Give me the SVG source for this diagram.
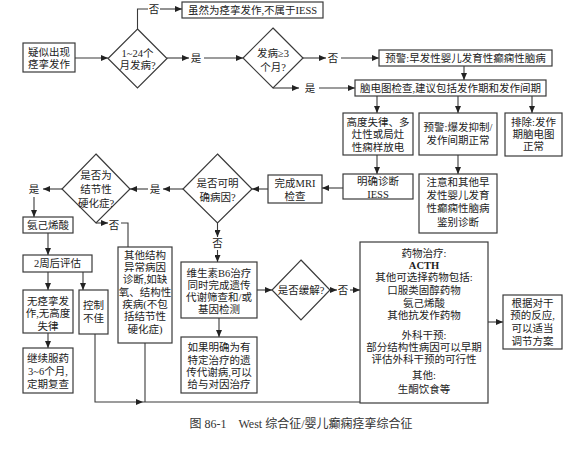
<svg xmlns="http://www.w3.org/2000/svg" width="586" height="455" viewBox="0 0 586 455">
<defs>
<marker id="ah" markerUnits="userSpaceOnUse" markerWidth="7" markerHeight="6" refX="7" refY="3" orient="auto">
<path d="M0,0 L7,3 L0,6 z" fill="#222"/>
</marker>
<style>
.b{fill:#fff;stroke:#3a3a3a;stroke-width:1.2}
.t{font-family:"Liberation Serif","Noto Sans CJK SC",serif;font-size:10.5px;fill:#222;text-anchor:middle;dominant-baseline:central}
.c{fill:none;stroke:#3a3a3a;stroke-width:1.1}
.a{marker-end:url(#ah)}
.cap{font-family:"Liberation Serif","Noto Sans CJK SC",serif;font-size:12px;fill:#333;text-anchor:middle;dominant-baseline:central}
</style>
</defs>
<rect width="586" height="455" fill="#fff"/>

<g id="connectors">
<path class="c a" d="M75,58 H108"/>
<path class="c" d="M137.5,29 V9 H148"/>
<path class="c a" d="M160,9 H182"/>
<path class="c a" d="M167,58 H189"/>
<path class="c a" d="M204,58 H243"/>
<path class="c a" d="M303,58 H326"/>
<path class="c a" d="M341,58 H379"/>
<path class="c a" d="M273,88 H299"/>
<path class="c a" d="M319,88 H355"/>
<path class="c a" d="M464,66 V80"/>
<path class="c a" d="M377,96 V113"/>
<path class="c a" d="M458,96 V113"/>
<path class="c a" d="M532,96 V113"/>
<path class="c a" d="M377,155 V174"/>
<path class="c a" d="M458,155 V174"/>
<path class="c a" d="M343,188 H322"/>
<path class="c a" d="M268,189 H252"/>
<path class="c a" d="M183,189 H163"/>
<path class="c a" d="M148,189 H130"/>
<path class="c a" d="M62,189 H43"/>
<path class="c a" d="M34,197 V217"/>
<path class="c a" d="M48,233 V255"/>
<path class="c a" d="M48,272 V290"/>
<path class="c a" d="M83,272 V290"/>
<path class="c a" d="M48,333 V348"/>
<path class="c a" d="M96,223 H108"/>
<path class="c" d="M121,223 H128 V247"/>
<path class="c a" d="M95,334 V402 H143"/>
<path class="c" d="M143,402 H360"/>
<path class="c" d="M145,343 V402"/>
<path class="c a" d="M217.5,223 V237"/>
<path class="c a" d="M217.5,250 V262"/>
<path class="c a" d="M219,318 V337"/>
<path class="c a" d="M257,290 H272"/>
<path class="c a" d="M330,290 H337"/>
<path class="c a" d="M350,290 H360"/>
<path class="c a" d="M488,322 H503"/>
<text class="t" x="154" y="9">否</text>
<text class="t" x="196" y="58">是</text>
<text class="t" x="333" y="58">否</text>
<text class="t" x="310" y="88">是</text>
<text class="t" x="155" y="189">是</text>
<text class="t" x="34" y="189">是</text>
<text class="t" x="114" y="225">否</text>
<text class="t" x="217.5" y="243">否</text>
<text class="t" x="343" y="290">否</text>
</g>

<g id="n_start"><rect class="b" x="23" y="43" width="52" height="29"/>
<text class="t" x="49" y="52">疑似出现</text><text class="t" x="49" y="64">痉挛发作</text></g>

<g id="n_d1"><polygon class="b" points="137.5,29 167,58.5 137.5,88 108,58.5"/>
<text class="t" x="137.5" y="53">1~24个</text><text class="t" x="137.5" y="65">月发病?</text></g>

<g id="n_notiess"><rect class="b" x="182" y="2" width="141" height="16"/>
<text class="t" x="252.5" y="10">虽然为痉挛发作,不属于IESS</text></g>

<g id="n_d2"><polygon class="b" points="273,28 303,58 273,88 243,58"/>
<text class="t" x="273" y="53">发病≥3</text><text class="t" x="273" y="67">个月?</text></g>

<g id="n_warn1"><rect class="b" x="379" y="50" width="173" height="16"/>
<text class="t" x="465.5" y="58">预警:早发性婴儿发育性癫痫性脑病</text></g>

<g id="n_eeg"><rect class="b" x="355" y="80" width="191" height="16"/>
<text class="t" x="450.5" y="88">脑电图检查,建议包括发作期和发作间期</text></g>

<g id="n_hyps"><rect class="b" x="343" y="113" width="70" height="42"/>
<text class="t" x="378" y="122">高度失律、多</text><text class="t" x="378" y="134">灶性或局灶</text><text class="t" x="378" y="147">性痫样放电</text></g>

<g id="n_warn2"><rect class="b" x="419" y="113" width="78" height="42"/>
<text class="t" x="458" y="127">预警:爆发抑制/</text><text class="t" x="458" y="140">发作间期正常</text></g>

<g id="n_excl"><rect class="b" x="505" y="113" width="57" height="43"/>
<text class="t" x="533.5" y="122">排除:发作</text><text class="t" x="533.5" y="134">期脑电图</text><text class="t" x="533.5" y="146">正常</text></g>

<g id="n_iess"><rect class="b" x="343" y="174" width="70" height="25"/>
<text class="t" x="378" y="181">明确诊断</text><text class="t" x="378" y="194">IESS</text></g>

<g id="n_diff"><rect class="b" x="419" y="174" width="78" height="59"/>
<text class="t" x="458" y="182">注意和其他早</text><text class="t" x="458" y="195">发性婴儿发育</text><text class="t" x="458" y="208">性癫痫性脑病</text><text class="t" x="458" y="222">鉴别诊断</text></g>

<g id="n_mri"><rect class="b" x="268" y="175" width="54" height="28"/>
<text class="t" x="295" y="183">完成MRI</text><text class="t" x="295" y="196">检查</text></g>

<g id="n_d3"><polygon class="b" points="217.5,154 252,189 217.5,223 183,189"/>
<text class="t" x="217.5" y="183">是否可明</text><text class="t" x="217.5" y="197">确病因?</text></g>

<g id="n_d4"><polygon class="b" points="96,154 130,189 96,223 62,189"/>
<text class="t" x="96" y="175">是否为</text><text class="t" x="96" y="189">结节性</text><text class="t" x="96" y="203">硬化症?</text></g>

<g id="n_vgb"><rect class="b" x="23" y="217" width="50" height="16"/>
<text class="t" x="48" y="225">氨己烯酸</text></g>

<g id="n_eval"><rect class="b" x="23" y="255" width="69" height="17"/>
<text class="t" x="57.5" y="263.5">2周后评估</text></g>

<g id="n_ok"><rect class="b" x="23" y="290" width="50" height="43"/>
<text class="t" x="48" y="301">无痉挛发</text><text class="t" x="48" y="313">作,无高度</text><text class="t" x="48" y="326">失律</text></g>

<g id="n_poor"><rect class="b" x="79" y="290" width="29" height="44"/>
<text class="t" x="93.5" y="305">控制</text><text class="t" x="93.5" y="318">不佳</text></g>

<g id="n_cont"><rect class="b" x="23" y="348" width="50" height="45"/>
<text class="t" x="48" y="358">继续服药</text><text class="t" x="48" y="371">3~6个月,</text><text class="t" x="48" y="384">定期复查</text></g>

<g id="n_other"><rect class="b" x="118" y="247" width="54" height="96"/>
<text class="t" x="145" y="255">其他结构</text><text class="t" x="145" y="267">异常病因</text><text class="t" x="145" y="279">诊断,如缺</text><text class="t" x="145" y="292">氧、结构性</text><text class="t" x="145" y="304">疾病(不包</text><text class="t" x="145" y="316">括结节性</text><text class="t" x="145" y="329">硬化症)</text></g>

<g id="n_b6"><rect class="b" x="181" y="262" width="76" height="56"/>
<text class="t" x="219" y="273">维生素B6治疗</text><text class="t" x="219" y="285">同时完成遗传</text><text class="t" x="219" y="297">代谢筛查和/或</text><text class="t" x="219" y="309">基因检测</text></g>

<g id="n_meta"><rect class="b" x="181" y="337" width="76" height="56"/>
<text class="t" x="219" y="347">如果明确为有</text><text class="t" x="219" y="360">特定治疗的遗</text><text class="t" x="219" y="372">传代谢病,可以</text><text class="t" x="219" y="384">给与对因治疗</text></g>

<g id="n_d5"><polygon class="b" points="301,260 330,290 301,320 272,290"/>
<text class="t" x="301" y="290">是否缓解?</text></g>

<g id="n_treat"><rect class="b" x="360" y="242" width="128" height="161"/>
<text class="t" x="424" y="253">药物治疗:</text>
<text class="t" x="424" y="265" font-weight="bold">ACTH</text>
<text class="t" x="424" y="277">其他可选择药物包括:</text>
<text class="t" x="424" y="290">口服类固醇药物</text>
<text class="t" x="424" y="303">氨己烯酸</text>
<text class="t" x="424" y="315">其他抗发作药物</text>
<text class="t" x="424" y="335">外科干预:</text>
<text class="t" x="424" y="347">部分结构性病因可以早期</text>
<text class="t" x="424" y="359">评估外科干预的可行性</text>
<text class="t" x="424" y="375">其他:</text>
<text class="t" x="424" y="389">生酮饮食等</text></g>

<g id="n_adj"><rect class="b" x="503" y="295" width="59" height="54"/>
<text class="t" x="532.5" y="303">根据对干</text><text class="t" x="532.5" y="315">预的反应,</text><text class="t" x="532.5" y="328">可以适当</text><text class="t" x="532.5" y="341">调节方案</text></g>

<text class="cap" x="301" y="424">图 86-1　West 综合征/婴儿癫痫痉挛综合征</text>
</svg>
